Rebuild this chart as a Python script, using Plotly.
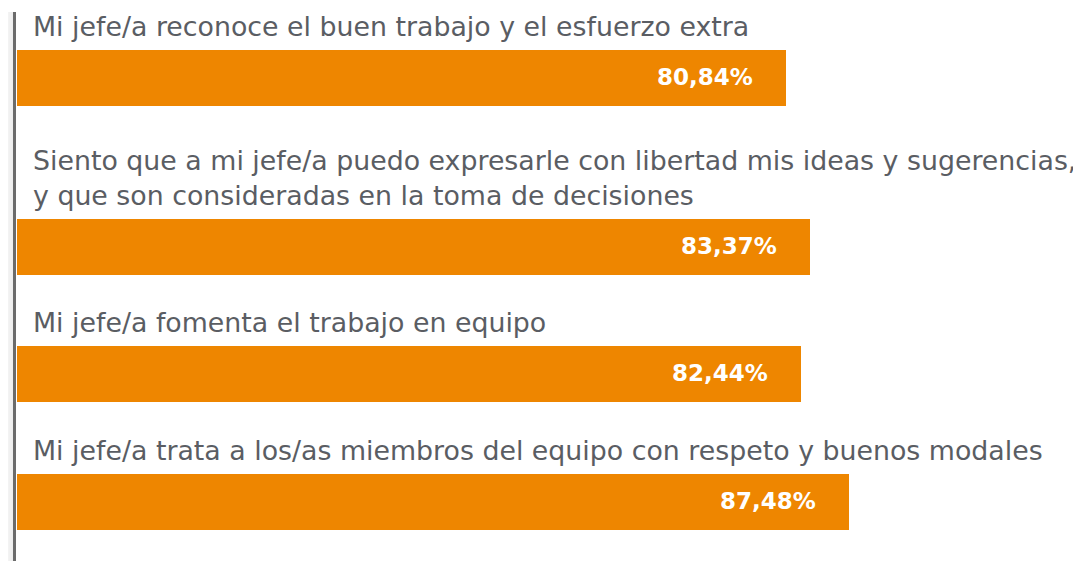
import plotly.graph_objects as go

questions = [
    "Mi jefe/a reconoce el buen trabajo y el esfuerzo extra",
    "Siento que a mi jefe/a puedo expresarle con libertad mis ideas y sugerencias,<br>y que son consideradas en la toma de decisiones",
    "Mi jefe/a fomenta el trabajo en equipo",
    "Mi jefe/a trata a los/as miembros del equipo con respeto y buenos modales",
]
values = [80.84, 83.37, 82.44, 87.48]
value_labels = ["80,84%", "83,37%", "82,44%", "87,48%"]

# layout: vertical slot centers (page-pixel units on a reversed y axis)
slot_centers = [78, 247, 374, 502]
bar_height = 56

ORANGE = "#EE8600"
TEXT = "#5a5d63"
FONT = "DejaVu Sans, Verdana, sans-serif"

fig = go.Figure()
fig.add_trace(go.Bar(
    x=values, y=slot_centers, orientation="h", width=bar_height,
    marker=dict(color=ORANGE, line=dict(width=0)),
    hoverinfo="skip",
))

annotations = []
for q, v, lab, yc in zip(questions, values, value_labels, slot_centers):
    annotations.append(dict(
        x=0, y=yc - bar_height / 2, xref="x", yref="y", text=q,
        xanchor="left", yanchor="bottom", xshift=14, yshift=6,
        showarrow=False, align="left",
        font=dict(family=FONT, size=26.8, color=TEXT),
    ))
    annotations.append(dict(
        x=v, y=yc, xref="x", yref="y", text=f"<b>{lab}</b>",
        xanchor="right", yanchor="middle", xshift=-31, yshift=1,
        showarrow=False,
        font=dict(family=FONT, size=23, color="white"),
    ))

shapes = []
# soft shadow left of the axis line
for i in range(12):
    shapes.append(dict(
        type="rect", xref="paper", yref="y", xsizemode="pixel",
        xanchor=0, x0=-4 - i - 1, x1=-4 - i, y0=12, y1=600,
        line=dict(width=0), fillcolor=f"rgba(0,0,0,{0.07 * (1 - i / 12):.3f})",
        layer="below",
    ))
shapes.append(dict(
    type="rect", xref="paper", yref="y", xsizemode="pixel",
    xanchor=0, x0=-4, x1=-1, y0=12, y1=600,
    line=dict(width=0), fillcolor="#6b6b6b",
))

fig.update_layout(
    width=1081, height=561,
    margin=dict(l=9, r=0, t=0, b=0),
    paper_bgcolor="white", plot_bgcolor="white",
    showlegend=False,
    xaxis=dict(range=[0, 1072 / 9.51], visible=False, fixedrange=True),
    yaxis=dict(range=[569, 8], visible=False, fixedrange=True),
    annotations=annotations, shapes=shapes,
    bargap=0,
)

fig.write_html("out.html")
